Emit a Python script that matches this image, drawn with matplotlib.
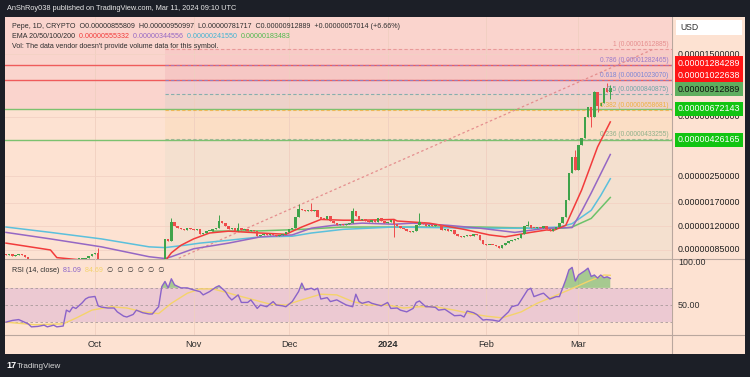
import matplotlib.pyplot as plt
import numpy as np
from matplotlib.transforms import offset_copy

# day index 0 = 2023-09-03, prices in units of 1e-8 USD
first_open = 80
closes = [79, 80, 78, 79, 80, 79, 77,
          74, 72, 71, 70, 71, 72, 73, 72, 71, 70, 71, 70,
          73, 72, 73, 74, 74, 75, 76,
          78, 80, 81,
          74,
          73, 72, 71, 72, 70, 69, 70, 70, 69, 70, 71, 70, 71, 70, 69, 70, 70, 71, 70, 72,
          100, 97, 128, 121, 118,
          116, 114, 117, 115, 114, 116, 107, 109, 112, 113, 116, 118,
          130,
          126, 121, 115, 117, 113, 118, 114, 115, 113, 114, 112, 104, 106, 108, 106, 108,
          106, 104, 106, 108, 110, 115, 118,
          137, 155,
          152, 150, 153, 151, 152,
          137, 134, 133, 140, 130, 127, 123, 125, 122, 124, 126,
          150,
          140, 132, 134, 130, 128, 132, 129, 135, 130, 127, 129, 131,
          124,
          121, 117, 115, 112, 110, 112,
          122, 129,
          125, 120, 122, 121, 123, 122, 114, 115, 112, 114, 108, 105, 103, 104, 106, 104,
          108, 106,
          98, 93, 91, 92, 91, 90, 88, 91, 94, 97, 99, 100, 101, 107,
          120, 123,
          118, 117, 119, 118, 120, 115, 113, 116, 119,
          126, 138, 177, 263, 332, 275, 396, 439, 597, 691, 597, 861, 700, 733, 913,
          855.809, 912.889]
wick_hi = {29: 88, 52: 135, 67: 142, 73: 126, 92: 168, 96: 170, 109: 157,
           130: 146, 164: 130, 179: 368, 185: 880, 189: 983, 190: 950.997}
wick_lo = {122: 103, 184: 515, 186: 640, 190: 781.717}

ema20_day = [0, 14, 16, 25, 40, 50, 52, 55, 59, 64, 70, 80, 88, 93, 99, 106, 112, 122,
             123, 133, 144, 152, 157, 165, 170, 172, 176, 181, 186, 190]
ema20_val = [94, 85, 76, 73, 71, 72, 81.5, 91, 100, 109, 112, 109, 107, 119, 133, 131.5,
             131.5, 133, 130, 126, 115, 106, 103, 110, 114, 113, 122, 205, 385, 555.332]
ema50_day = [0, 14, 30, 45, 50, 52, 59, 70, 80, 90, 96, 103, 112, 122, 128, 139, 149,
             160, 170, 178, 181, 184, 187, 190]
ema50_val = [110, 100, 89, 77, 75, 77, 86.5, 94, 103, 106, 117, 122, 126, 124, 126, 122,
             117, 110, 117, 118, 150, 196, 260, 344.556]
ema100_day = [0, 14, 30, 45, 50, 56, 61, 70, 80, 90, 96, 106, 122, 149, 165, 174, 178,
              184, 187, 190]
ema100_val = [119, 110, 100, 89, 88, 91, 94, 98, 103, 104, 109, 115, 119, 117, 117, 119,
              125, 152, 189, 241.55]
ema200_day = [65, 80, 93, 106, 122, 149, 165, 175, 178, 184, 190]
ema200_val = [112, 112.5, 115, 119, 119, 119, 117, 117, 119, 135, 183.483]

rsi_day = [0, 2, 4, 7, 8, 10, 12, 13, 15, 16, 18, 19, 20, 21, 22, 24, 25, 26, 28, 29, 30,
           32, 34, 35, 37, 38, 40, 41, 43, 45, 46, 48, 49, 50, 51, 52, 53, 55, 57, 59, 61,
           62, 64, 66, 67, 69, 70, 71, 73, 74, 76, 77, 79, 80, 82, 84, 85, 87, 88, 90, 92,
           93, 94, 96, 97, 98, 99, 101, 102, 104, 106, 107, 109, 110, 111, 112, 114, 115,
           117, 118, 120, 121, 123, 124, 126, 128, 129, 130, 132, 133, 135, 136, 138, 140,
           141, 143, 144, 145, 147, 148, 150, 151, 153, 155, 156, 158, 159, 161, 162, 164,
           165, 166, 168, 169, 171, 173, 174, 175, 176, 177, 178, 179, 180, 182, 183, 184,
           185, 186, 187, 188, 189, 190]
rsi_val = [30, 32, 33, 28, 24.5, 25, 26.5, 24.5, 26.5, 24.5, 25.5, 44, 42, 47.6, 46, 52.7,
           57, 59, 60, 49, 47.6, 46.5, 46.5, 42, 37, 36, 39, 44, 41, 39.5, 39.5, 48, 71.5,
           77.5, 70, 80.6, 73.5, 70, 70, 67.6, 65.6, 61.8, 65.6, 70.8, 72.5, 65.7, 59.8,
           55.9, 61.8, 53, 53, 56, 46, 50, 48, 54, 50, 49, 48, 54, 65.7, 75.5, 67.6, 69.6,
           67.6, 69.6, 57, 58.6, 54, 56, 52, 50, 48, 62.6, 54, 52, 54, 52, 50, 49, 53, 46,
           46.5, 44, 42, 46, 53, 54.7, 48, 48, 47.3, 44, 45, 40, 37.5, 38, 36, 43, 41, 39,
           32.4, 33, 32.4, 31, 35, 42, 48, 50, 55.9, 67.6, 69.6, 59.8, 62.6, 63.8, 57, 59.8,
           59.8, 69.6, 79.4, 91, 93.9, 78, 85, 90, 93, 83.3, 85, 81.4, 85, 81.8, 82.9, 81.09]
rsima_day = [0, 9, 18, 22, 27, 33, 38, 43, 48, 52, 57, 61, 65, 70, 72, 78, 83, 88, 93, 99,
             104, 109, 114, 120, 125, 130, 135, 141, 146, 151, 156, 162, 167, 172, 177, 183,
             188, 190]
rsima_val = [30, 27, 28, 34.7, 44, 48, 46.5, 42, 40, 52, 63.7, 68.8, 68.8, 64, 61.8, 56, 51,
             50, 56, 62.6, 61.8, 54, 50, 50, 46.5, 48, 48, 44, 40, 37, 35, 42, 52, 59.8,
             67.6, 77.5, 85, 84.69]

fib_start = 50
fib_levels = ['1', '0.786', '0.618', '0.5', '0.382', '0.236']
fib_prices = [1612.885, 1282.465, 1023.070, 840.875, 658.681, 433.255]
fib_zero = 68.9
fib_colors = ['#e58e8e', '#9a7cc9', '#7d87d6', '#6ea6a6', '#f0b040', '#8fb08a']
fib_fills = ['#f2a7b5', '#ec9aa8', '#d2b4de', '#c0cfc0', '#f8d49a', '#d8d9c6']

red_lines = [1284.289, 1022.638]
green_lines = [672.143, 426.165]
price_ticks = [1500, 600, 250, 170, 120, 85]
month_day = [28, 59, 89, 120, 151, 180]
month_lbl = ['Oct', 'Nov', 'Dec', '2024', 'Feb', 'Mar']

W, H = 750, 377
PEACH = '#fde2d2'
PINK = '#fad4cd'
TXT = '#2e2e2e'
plt.rcParams['font.family'] = ['Liberation Sans', 'DejaVu Sans']

fig = plt.figure(figsize=(7.5, 3.77), dpi=100)
fig.patch.set_facecolor('#1c1f27')


def rect(x0, y0, x1, y1):
    return [x0 / W, 1 - y1 / H, (x1 - x0) / W, (y1 - y0) / H]


def clean(a):
    a.set_xticks([])
    a.set_yticks([])
    for s in a.spines.values():
        s.set_visible(False)


bg = fig.add_axes(rect(5, 17, 745, 354))
bg.set_facecolor(PEACH)
bg.set_xlim(5, 745)
bg.set_ylim(354, 17)
clean(bg)

ax = fig.add_axes(rect(5, 17, 672, 259))
rax = fig.add_axes(rect(5, 259, 672, 335))
for a in (ax, rax):
    a.set_facecolor('none')
    clean(a)
    a.set_xlim(-0.3, 209.4)

ax.set_yscale('log')
ax.set_ylim(74.47, 2586)
ax.minorticks_off()
ax.set_yticks([])

# background bands
ax.axhspan(green_lines[0], 2586, color=PINK, zorder=0, lw=0)
bounds = fib_prices + [fib_zero]
for k in range(len(fib_prices)):
    ax.fill_between([fib_start, 209.4], bounds[k + 1], bounds[k], color=fib_fills[k],
                    alpha=0.22, lw=0, zorder=0.5)

for d in month_day:
    ax.axvline(d, color='#f0cfc0', lw=0.6, zorder=1)
    rax.axvline(d, color='#f0cfc0', lw=0.6, zorder=0.5)
for p in price_ticks:
    ax.axhline(p, color='#f3d2c4', lw=0.6, zorder=1)

# horizontal drawings
for p in red_lines:
    ax.axhline(p, color='#ef5b5b', lw=1.0, zorder=2)
for p in green_lines:
    ax.axhline(p, color='#7cc16f', lw=1.0, zorder=2)

# fib retracement
for lv, p, c in zip(fib_levels, fib_prices, fib_colors):
    ax.plot([fib_start, 209.4], [p, p], color=c, lw=0.8, ls=(0, (3, 2)), alpha=0.8, zorder=2)
    ax.text(208.2, p * 1.012, f'{lv} ({p * 1e-8:.11f})', color=c, fontsize=4.8,
            ha='right', va='bottom', zorder=6)
ax.plot([fib_start, 203.5], [fib_zero, fib_prices[0]], color='#e58e8e', lw=0.9,
        ls=(0, (2, 2)), zorder=2)

# EMAs
ax.plot(ema200_day, ema200_val, color='#6cc26a', lw=1.1, zorder=3)
ax.plot(ema100_day, ema100_val, color='#5bc0dc', lw=1.1, zorder=3)
ax.plot(ema50_day, ema50_val, color='#9567c4', lw=1.1, zorder=3)
ax.plot(ema20_day, ema20_val, color='#f23b3b', lw=1.1, zorder=3)

# candles
c = np.array(closes, dtype=float)
o = np.array([first_open] + closes[:-1], dtype=float)
days = np.arange(len(c))
hi = np.array([max(o[i], c[i], wick_hi.get(i, 0)) for i in days])
lo = np.array([min(o[i], c[i], wick_lo.get(i, 1e9)) for i in days])
up = c >= o
cols = np.where(up, '#3fa34a', '#ee4b4b')
ax.vlines(days, lo, hi, colors=cols, lw=0.7, zorder=4)
body_lo = np.minimum(o, c)
body_h = np.maximum(np.abs(c - o), body_lo * 0.014)
ax.bar(days, body_h, bottom=body_lo, width=0.78, color=cols, lw=0, zorder=5)

# legend text
def chain(a, x, y, parts, size, trans):
    t = a.text(x, y, parts[0][0], color=parts[0][1], fontsize=size, transform=trans,
               va='center', ha='left', zorder=8)
    for s, col in parts[1:]:
        t = a.annotate(s, xy=(1, 0.5), xycoords=t, va='center', ha='left', color=col,
                       fontsize=size, zorder=8)
    return t


def ay(py):
    return 1 - (py - 17) / 242


chain(ax, 7 / 667, ay(26), [('Pepe, 1D, CRYPTO  O0.00000855809  H0.00000950997  '
                              'L0.00000781717  C0.00000912889  +0.00000057014 (+6.66%)', TXT)],
      5.1, ax.transAxes)
chain(ax, 7 / 667, ay(36.5), [('EMA 20/50/100/200  ', TXT), ('0.00000555332  ', '#f23b3b'),
                              ('0.00000344556  ', '#9567c4'), ('0.00000241550  ', '#3fb3d3'),
                              ('0.00000183483', '#4fb84d')], 5.1, ax.transAxes)
chain(ax, 7 / 667, ay(47), [("Vol: The data vendor doesn't provide volume data for this symbol.",
                             TXT)], 5.1, ax.transAxes)

# price axis
ytr = ax.get_yaxis_transform()
for p in price_ticks:
    ax.text(1.009, p, f'{p * 1e-8:.11f}', transform=ytr, fontsize=6.4, color='#1e1e1e',
            va='center', ha='left', clip_on=False, zorder=7)
boxes = [(1284.289, '#ff1414', 'white', 1.4), (1022.638, '#ff1414', 'white', 4.6),
         (912.889, '#5fae5f', '#111111', -1.3), (672.143, '#12c412', 'white', 0),
         (426.165, '#12c412', 'white', 0)]
for p, fc, tc, dy in boxes:
    tr = offset_copy(ytr, fig=fig, y=dy, units='dots')
    ax.text(1.009, p, f'{p * 1e-8:.11f}', transform=tr, fontsize=6.4, color=tc,
            va='center', ha='left', clip_on=False, zorder=9,
            bbox=dict(boxstyle='square,pad=0.3', fc=fc, ec='none'))
bg.add_patch(plt.Rectangle((676, 20), 66, 15, fc='white', ec='none', zorder=5))
bg.text(680, 27.5, 'USD', fontsize=6.2, color=TXT, va='center', ha='left', zorder=6)

# RSI panel
rax.set_ylim(15, 103.7)
rax.axhspan(30, 70, color='#ecc9d2', lw=0, zorder=0)
for lv in (70, 50, 30):
    rax.axhline(lv, color='#a89a9a', lw=0.6, ls=(0, (3, 3)), zorder=1)
rv = np.array(rsi_val)
rax.fill_between(rsi_day, rv, 70, where=rv > 70, interpolate=True, color='#5fb55a',
                 alpha=0.55, lw=0, zorder=2)
rax.plot(rsima_day, rsima_val, color='#f5d36a', lw=1.0, zorder=3)
rax.plot(rsi_day, rsi_val, color='#8a63c9', lw=1.0, zorder=4)
chain(rax, 7 / 667, 1 - 11 / 76, [('RSI (14, close)  ', TXT), ('81.09  ', '#8a63c9'),
                                   ('84.69  ', '#f5d36a'),
                                   ('\u2205  \u2205  \u2205  \u2205  \u2205  \u2205', TXT)],
      5.1, rax.transAxes)
rytr = rax.get_yaxis_transform()
rax.text(1.009, 100, '100.00', transform=rytr, fontsize=6.4, color=TXT, va='center',
         clip_on=False)
rax.text(1.009, 50, '50.00', transform=rytr, fontsize=6.4, color=TXT, va='center',
         clip_on=False)

xtr = rax.get_xaxis_transform()
for d, lb in zip(month_day, month_lbl):
    rax.text(d, -0.13, lb, transform=xtr, fontsize=6.6, color=TXT, ha='center', va='center',
             fontweight='bold' if lb == '2024' else 'normal', clip_on=False)

# frame separators
bg.plot([672, 672], [17, 354], color='#b9a79e', lw=0.8)
bg.plot([5, 745], [259, 259], color='#b9a79e', lw=0.8)
bg.plot([5, 745], [335, 335], color='#b9a79e', lw=0.8)

fig.text(7 / W, 1 - 9 / H, 'AnShRoy038 published on TradingView.com, Mar 11, 2024 09:10 UTC',
         fontsize=5.3, color='#e8e8e8', va='center', ha='left')
fig.text(6 / W, 1 - 366 / H, '17', fontsize=6.5, color='white', fontweight='bold',
         va='center', ha='left')
fig.text(17 / W, 1 - 366 / H, 'TradingView', fontsize=5.8, color='#d8d8d8', va='center',
         ha='left')

fig.savefig('out.png', dpi=100, facecolor=fig.get_facecolor())
